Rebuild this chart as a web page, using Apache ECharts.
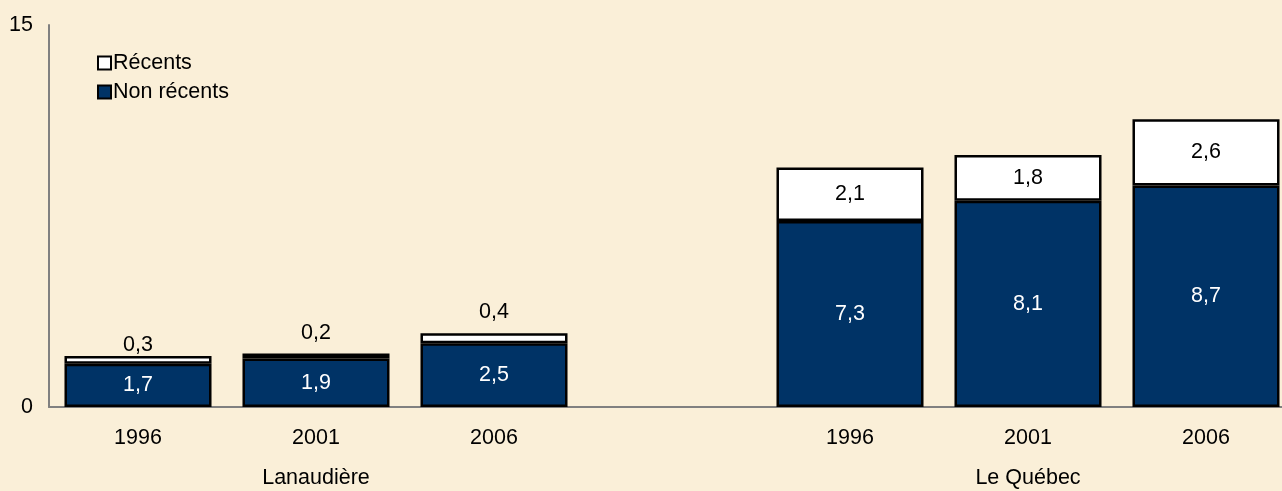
<!DOCTYPE html>
<html><head><meta charset="utf-8">
<script src="https://cdn.jsdelivr.net/npm/echarts@6/dist/echarts.min.js"></script>
<style>html,body{margin:0;padding:0;background:#FAEFD8;}#c{width:1282px;height:491px;}</style>
</head><body><div id="c"></div>
<script>
var years = ['1996', '2001', '2006', '', '1996', '2001', '2006'];
var groups = ['', 'Lanaudière', '', '', '', 'Le Québec', ''];
var nonRecents = [1.7, 1.9, 2.5, null, 7.3, 8.1, 8.7];
var recents = [0.3, 0.2, 0.4, null, 2.1, 1.8, 2.6];
var yTicks = [0, 15];

var font = 'Liberation Sans, Arial, sans-serif';
var fs = 21.5;
var fmt = function (v) { return String(v).replace('.', ','); };

var recentData = recents.map(function (v, i) {
  if (v === null) return null;
  var item = { value: v };
  if (i < 3) {
    var dist = [0, 9, 10][i];
    item.label = { position: 'top', distance: dist };
  }
  return item;
});

var chart = echarts.init(document.getElementById('c'));
chart.setOption({
  backgroundColor: '#FAEFD8',
  animation: false,
  textStyle: { fontFamily: font },
  legend: {
    orient: 'vertical', left: 92, top: 47,
    itemWidth: 13, itemHeight: 13, itemGap: 7,
    icon: 'rect',
    textStyle: { fontSize: fs, color: '#000', fontFamily: font, padding: [0, 0, 0, -3] },
    data: ['Récents', 'Non récents']
  },
  grid: { left: 49, top: 25, width: 1246, height: 382, outerBoundsMode: 'none', containLabel: false },
  xAxis: [{
    type: 'category', data: years, position: 'bottom',
    axisLine: { lineStyle: { color: '#808080', width: 2 } },
    axisTick: { show: false },
    axisLabel: { fontSize: fs, color: '#000', margin: 20, fontFamily: font }
  }, {
    type: 'category', data: groups, position: 'bottom', offset: 40,
    axisLine: { show: false }, axisTick: { show: false },
    axisLabel: { fontSize: fs, color: '#000', margin: 20, fontFamily: font, interval: 0 }
  }],
  yAxis: {
    type: 'value', min: yTicks[0], max: yTicks[1], interval: 15,
    axisLine: { show: true, lineStyle: { color: '#808080', width: 2 } },
    axisTick: { show: false },
    splitLine: { show: false },
    axisLabel: { fontSize: fs, color: '#000', margin: 16, fontFamily: font }
  },
  series: [{
    name: 'Non récents', type: 'bar', stack: 's', data: nonRecents,
    barCategoryGap: '17.4%',
    itemStyle: { color: '#003366', borderColor: '#000', borderWidth: 2.5 },
    label: { show: true, position: 'inside', color: '#fff', fontSize: fs, fontFamily: font,
      formatter: function (p) { return fmt(p.value); } }
  }, {
    name: 'Récents', type: 'bar', stack: 's', data: recentData,
    itemStyle: { color: '#fff', borderColor: '#000', borderWidth: 2.5 },
    label: { show: true, position: 'inside', color: '#000', fontSize: fs, fontFamily: font,
      formatter: function (p) { return fmt(p.value); } }
  }]
});
</script></body></html>
